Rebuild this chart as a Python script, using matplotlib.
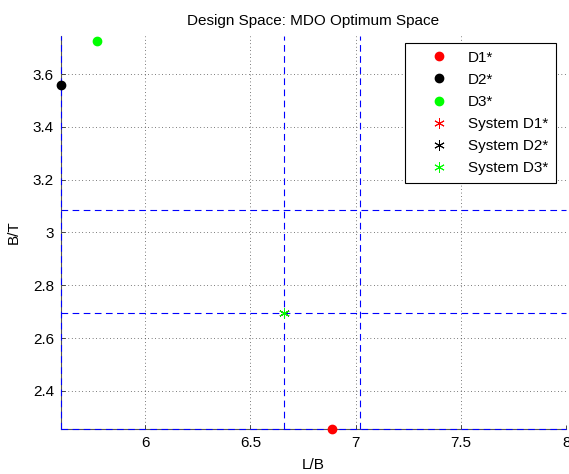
import matplotlib.pyplot as plt

plt.rcParams['font.family'] = ['Liberation Sans', 'DejaVu Sans']

# discipline optima
d_names = ["D1*", "D2*", "D3*"]
d_lb = [6.886, 5.600, 5.771]
d_bt = [2.256, 3.558, 3.725]
d_colors = ["#ff0000", "#000000", "#00ff00"]

# system optima
s_names = ["System D1*", "System D2*", "System D3*"]
s_lb = [6.662, 6.662, 6.662]
s_bt = [2.696, 2.696, 2.696]

# bound lines
v_lines = [5.600, 6.662, 7.020]
h_lines = [2.256, 2.696, 3.085]

fig = plt.figure(figsize=(5.69, 4.74), dpi=100)
ax = fig.add_axes([0.107, 0.095, 0.888, 0.829])

for xv in v_lines:
    ax.axvline(xv, color="#0000ff", lw=0.8, dashes=(6, 4), zorder=3, clip_on=False)
for yv in h_lines:
    ax.axhline(yv, color="#0000ff", lw=0.8, dashes=(6, 4), zorder=3, clip_on=False)

for x, y, c, n in zip(d_lb, d_bt, d_colors, d_names):
    ax.plot(x, y, "o", color=c, ms=6, label=n, clip_on=False, zorder=4)
for x, y, c, n in zip(s_lb, s_bt, d_colors, s_names):
    ax.plot(x, y, color=c, ms=7.5, mew=0.7, marker=(6, 2, 0), ls="none",
            label=n, clip_on=False, zorder=5)

ax.set_xlim(5.6, 8.0)
ax.set_ylim(2.256, 3.744)
ax.set_xticks([6, 6.5, 7, 7.5, 8])
ax.set_xticklabels(["6", "6.5", "7", "7.5", "8"])
ax.set_yticks([2.4, 2.6, 2.8, 3.0, 3.2, 3.4, 3.6])
ax.set_yticklabels(["2.4", "2.6", "2.8", "3", "3.2", "3.4", "3.6"])
ax.tick_params(direction="in", length=3, width=0.5, labelsize=11, pad=5)
ax.grid(True, color="black", ls=(0, (1, 4)), lw=0.5)
ax.spines["top"].set_visible(False)
ax.spines["right"].set_visible(False)
for s in ["left", "bottom"]:
    ax.spines[s].set_color("#555555")
    ax.spines[s].set_linewidth(0.8)

ax.set_title("Design Space: MDO Optimum Space", fontsize=11, pad=8)
ax.set_xlabel("L/B", fontsize=11, labelpad=6)
ax.set_ylabel("B/T", fontsize=11, labelpad=9)

leg = ax.legend(loc="upper right", bbox_to_anchor=(0.979, 0.982), fontsize=11,
                frameon=True, fancybox=False, edgecolor="black", framealpha=1,
                borderpad=0.5, labelspacing=0.53, handlelength=3.5,
                handletextpad=0.1, borderaxespad=0)
leg.get_frame().set_linewidth(0.8)

fig.savefig("out.png", dpi=100)
